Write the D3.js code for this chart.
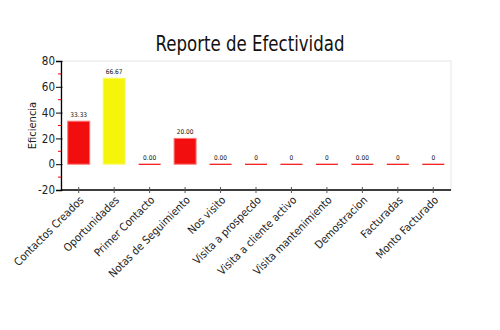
<!DOCTYPE html>
<html><head><meta charset="utf-8">
<script src="https://cdn.jsdelivr.net/npm/d3@7"></script>
<style>body{margin:0;background:#fff;}svg{display:block;} text{font-stretch:condensed;}</style>
</head><body>
<svg id="c" width="500" height="330"></svg>
<script>
const categories = ["Contactos Creados","Oportunidades","Primer Contacto","Notas de Seguimiento","Nos visito","Visita a prospecdo","Visita a cliente activo","Visita mantenimiento","Demostracion","Facturadas","Monto Facturado"];
const values = [33.33, 66.67, 0, 20, 0, 0, 0, 0, 0, 0, 0];
const valueLabels = ["33.33","66.67","0.00","20.00","0.00","0","0","0","0.00","0","0"];
const barColors = ["#f20e0e","#f5f50c","#f20e0e","#f20e0e","#f20e0e","#f20e0e","#f20e0e","#f20e0e","#f20e0e","#f20e0e","#f20e0e"];
const yTicks = [-20, 0, 20, 40, 60, 80];
const yMinorTicks = [-10, 10, 30, 50, 70];

const font = "'DejaVu Sans Condensed','DejaVu Sans',sans-serif";
const svg = d3.select("#c");
const L = 61, R = 451, T = 61, B = 190;
const x = d3.scaleBand().domain(categories).range([L, R]).paddingInner(0.38).paddingOuter(0.19);
const y = d3.scaleLinear().domain([-20, 80]).range([B, T]);

// plot frame (light)
svg.append("rect").attr("x", L).attr("y", T).attr("width", R - L).attr("height", B - T)
  .attr("fill", "none").attr("stroke", "#e6e6e6").attr("stroke-width", 1);

// title
svg.append("text").attr("x", 250).attr("y", 51).attr("text-anchor", "middle")
  .attr("font-family", font).attr("font-size", 22).attr("fill", "#111")
  .attr("textLength", 189).attr("lengthAdjust", "spacingAndGlyphs")
  .text("Reporte de Efectividad");

// bars
svg.selectAll("rect.bar").data(values).enter().append("rect").attr("class", "bar")
  .attr("x", (d, i) => x(categories[i]))
  .attr("width", x.bandwidth())
  .attr("y", d => d > 0 ? y(d) : y(0) - 0.5)
  .attr("height", d => d > 0 ? y(0) - y(d) : 1.2)
  .attr("fill", (d, i) => barColors[i])
  .attr("stroke", (d, i) => d > 0 ? (i === 1 ? "#f8f870" : "#f77") : "none")
  .attr("stroke-width", 1);

// value labels
svg.selectAll("text.vl").data(values).enter().append("text").attr("class", "vl")
  .attr("x", (d, i) => x(categories[i]) + x.bandwidth() / 2)
  .attr("y", d => y(d) - 4)
  .attr("text-anchor", "middle").attr("font-family", font).attr("font-size", 6.5).attr("fill", "#111")
  .text((d, i) => valueLabels[i]);

// y axis
const yAxis = svg.append("g").attr("transform", `translate(${L},0)`)
  .call(d3.axisLeft(y).tickValues(yTicks).tickFormat(d => String(d)).tickSize(5).tickPadding(1));
yAxis.select(".domain").attr("stroke", "#000").attr("stroke-width", 1.3);
yAxis.selectAll(".tick line").attr("stroke", "#000").attr("x2", 1.5).attr("x1", -5);
yAxis.selectAll("text").attr("font-family", font).attr("font-size", 11.5).attr("fill", "#222");
svg.append("g").selectAll("line").data(yMinorTicks).enter().append("line")
  .attr("x1", L - 3).attr("x2", L).attr("y1", d => y(d)).attr("y2", d => y(d))
  .attr("stroke", "#e00").attr("stroke-width", 1);

// y title
svg.append("text").attr("transform", `translate(36,${(T + B) / 2}) rotate(-90)`)
  .attr("text-anchor", "middle").attr("font-family", font).attr("font-size", 11).attr("fill", "#222").text("Eficiencia");

// x axis
const xAxis = svg.append("g").attr("transform", `translate(0,${B})`)
  .call(d3.axisBottom(x).tickSize(3).tickPadding(4).tickSizeOuter(0));
xAxis.select(".domain").attr("stroke", "#000").attr("stroke-width", 1.3).attr("d", `M${L},0H${R}`);
xAxis.selectAll(".tick line").attr("stroke", "#555").attr("y1", -3).attr("y2", 3);
xAxis.selectAll("text").attr("font-family", font).attr("font-size", 11).attr("fill", "#222")
  .attr("text-anchor", "end").attr("dy", "0.35em")
  .attr("transform", "translate(3,8) rotate(-45)").attr("y", 0).attr("x", 0);
</script>
</body></html>
